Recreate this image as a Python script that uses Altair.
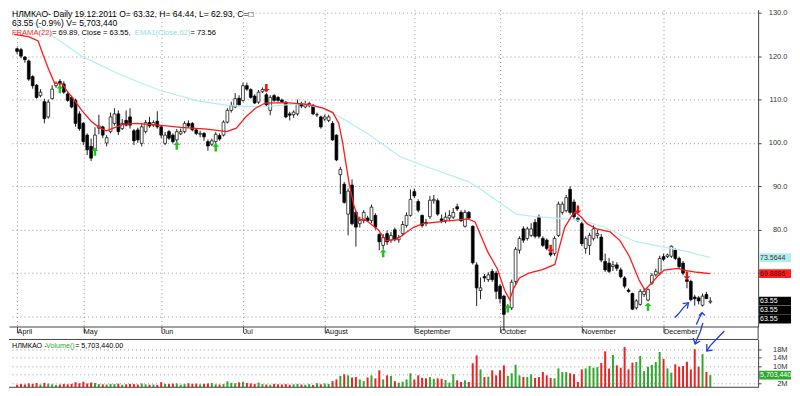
import altair as alt
import pandas as pd

# ---------------- data ----------------
opens = [121.7,121.5,119.8,118.9,115.3,113.3,110.9,109.5,106.0,110.2,113.2,114.2,113.6,111.3,110.5,109.8,106.7,
         104.5,101.8,99.2,98.4,103.4,103.7,100.0,102.6,104.5,106.7,103.3,105.2,106.0,102.8,103.0,99.9,102.6,104.7,104.1,105.0,
         103.7,99.9,102.6,101.8,100.7,102.1,102.6,104.5,104.5,103.0,102.0,102.2,100.3,99.7,100.3,101.7,101.8,104.8,107.5,108.3,110.3,
         109.8,113.2,112.3,110.8,109.4,111.8,111.1,107.5,110.9,110.5,109.9,109.4,106.7,106.5,106.7,109.0,108.3,108.6,108.6,106.5,106.0,
         105.5,105.2,104.5,101.8,92.7,90.5,83.6,90.3,84.0,81.4,82.1,82.7,82.1,83.3,78.9,76.4,79.1,77.6,80.0,77.7,79.1,81.0,83.3,
         88.8,86.5,83.3,81.7,83.0,86.7,86.7,82.5,82.1,82.7,82.9,85.3,84.0,80.8,84.0,80.8,71.9,66.0,69.2,68.5,70.4,70.0,
         67.0,64.7,62.0,62.0,68.1,75.3,80.2,78.0,78.7,81.7,82.9,78.0,77.6,74.7,74.5,78.7,84.0,84.4,89.3,86.4,82.6,
         81.4,75.7,76.4,77.95,78.7,78.3,72.7,72.3,71.5,71.9,70.75,68.9,66.1,65.3,62.0,62.8,65.1,63.8,67.7,69.6,70.0,
         73.8,73.8,73.9,75.3,73.4,72.3,68.5,68.1,64.5,64.3,62.6,65.1,63.32]
highs = [122.0,121.9,120.0,119.2,115.6,113.6,112.4,110.2,110.0,113.3,114.2,114.7,114.2,111.7,110.9,110.2,107.3,
         104.8,102.2,101.0,103.6,106.5,104.0,101.8,107.0,108.0,107.5,105.5,107.5,108.0,103.2,103.5,104.5,105.3,106.0,105.2,107.3,
         104.0,102.5,103.0,102.2,103.2,103.3,105.0,105.2,104.8,103.3,102.8,102.5,100.8,101.0,102.5,102.2,105.2,108.0,109.5,111.5,111.0,
         113.9,113.9,112.6,111.2,112.2,112.8,111.5,111.0,111.3,110.8,110.2,109.7,107.2,107.5,110.0,109.5,109.7,109.5,109.0,107.0,106.3,
         106.5,106.5,105.0,102.0,94.5,91.0,89.5,91.6,84.5,83.0,84.5,83.2,85.8,83.8,79.2,79.0,79.8,79.5,80.5,78.8,82.0,84.0,89.3,
         89.5,87.0,83.5,82.5,87.8,88.0,87.2,83.5,84.0,84.5,85.0,86.0,84.5,84.6,84.3,81.0,72.5,69.0,69.8,70.2,71.0,70.5,
         67.5,65.0,62.8,68.5,76.0,78.5,80.8,80.7,81.5,82.5,83.5,78.5,78.0,75.0,78.5,86.5,86.5,88.0,90.0,87.0,83.0,
         81.8,78.5,79.3,81.0,80.0,79.0,74.5,73.5,72.8,72.5,71.3,69.3,66.5,65.5,64.0,66.3,66.5,66.5,70.0,71.0,74.0,
         74.5,74.5,76.4,75.7,73.8,72.8,69.0,68.5,65.0,64.7,65.3,65.7,64.44]
lows = [120.5,119.5,118.5,114.3,112.5,110.2,110.5,104.5,105.6,110.0,112.7,113.0,111.3,109.5,108.0,103.7,102.8,
        99.5,97.2,95.8,98.0,102.0,101.1,99.2,102.2,104.0,101.8,103.0,103.8,103.3,99.5,100.0,99.2,102.2,103.5,103.7,103.3,
        101.1,99.5,100.7,99.9,100.2,101.8,102.2,103.5,102.7,101.8,101.3,100.5,98.2,99.3,99.8,100.5,101.5,104.5,107.0,108.0,108.5,
        109.5,112.0,110.2,109.0,109.0,111.5,108.3,106.4,109.5,109.5,109.3,105.7,105.2,105.8,106.3,108.0,108.0,108.2,106.4,106.0,103.3,
        105.0,104.8,100.5,95.8,88.2,86.0,78.7,81.0,76.1,80.5,81.5,81.8,81.5,80.0,75.3,75.5,76.5,77.0,77.3,77.0,78.5,80.5,83.0,
        87.3,84.0,80.5,80.8,82.5,86.0,83.2,81.5,81.5,82.0,82.5,84.3,81.8,80.5,82.3,72.0,62.4,64.0,68.0,68.0,68.0,64.0,
        63.0,56.7,61.0,61.5,67.5,74.5,77.0,77.5,78.3,78.0,78.0,76.0,75.3,73.8,74.0,78.3,83.5,84.0,83.5,82.5,81.8,
        76.3,74.5,74.2,77.5,78.0,72.5,70.3,70.0,70.5,70.5,68.8,66.5,65.5,61.5,61.6,62.5,64.5,63.5,67.3,69.2,69.5,
        72.8,73.5,73.5,73.0,71.0,69.5,66.5,63.5,62.5,62.8,62.3,64.0,62.93]
closes = [121.1,120.0,119.2,114.7,113.2,110.5,111.7,105.6,109.4,112.4,113.7,113.6,111.7,109.8,108.3,104.5,103.3,
          100.3,98.4,96.5,101.8,103.9,101.8,101.2,106.0,106.7,102.6,104.5,104.1,104.1,100.5,100.7,103.7,104.7,103.9,104.7,103.7,
          101.8,101.8,101.1,100.3,102.6,102.6,104.5,103.9,103.0,102.2,102.2,101.4,99.3,100.5,102.0,100.9,104.8,107.5,108.6,110.2,108.8,
          113.2,112.4,110.5,109.2,111.7,112.3,108.8,110.5,109.8,109.8,109.5,106.0,106.4,107.1,109.0,108.5,108.8,109.1,106.7,106.5,103.7,
          106.0,106.0,100.7,96.1,93.9,86.3,88.9,81.4,80.6,82.1,84.0,82.1,85.2,80.6,77.2,78.2,77.2,78.7,77.7,78.2,81.2,83.3,87.0,
          87.8,84.5,81.0,81.4,86.8,87.0,83.6,82.1,82.9,83.3,84.0,84.8,82.1,84.0,82.7,72.4,66.6,66.6,68.9,69.6,68.5,65.8,
          64.1,60.5,62.3,67.9,75.5,78.0,77.6,80.2,80.2,78.5,78.5,76.4,75.7,74.2,78.0,85.9,85.9,87.4,84.0,83.0,82.1,
          76.8,77.95,78.7,80.2,79.1,73.0,70.75,70.4,71.9,71.1,69.2,67.0,65.8,61.7,63.6,65.8,65.8,66.2,69.5,70.4,73.4,
          73.2,74.2,76.2,73.4,71.5,70.0,68.1,63.9,64.1,63.6,64.7,64.13,63.55]
vol_m = [1.2,1.5,1.3,1.8,1.6,2.0,1.3,2.1,1.7,1.4,1.1,1.3,1.5,1.4,1.6,2.4,1.9,
         2.6,1.8,2.2,2.0,1.5,1.4,1.3,1.6,1.5,1.7,1.2,1.4,1.6,1.5,1.3,1.8,1.4,1.2,1.3,1.1,
         2.4,1.6,1.5,1.7,1.8,1.2,1.5,1.9,1.6,1.7,1.4,1.6,1.8,2.0,1.4,1.3,1.5,2.8,2.1,1.9,2.3,
         2.6,2.0,1.8,1.6,2.2,1.5,1.3,1.2,1.6,1.4,1.3,1.5,1.2,1.4,1.6,1.3,1.2,1.5,1.1,1.9,1.4,
         1.8,1.6,2.9,3.7,5.3,6.1,5.6,4.6,4.8,3.7,2.9,4.6,5.6,4.2,8.0,3.7,5.6,5.3,2.9,2.2,
         2.6,3.7,6.6,3.7,5.6,4.4,4.2,4.8,4.0,4.2,4.0,3.4,2.2,6.1,3.3,2.5,3.3,2.5,11.3,15.0,
         8.4,4.8,5.0,8.0,5.6,8.0,10.3,5.3,6.6,10.6,5.6,4.8,4.8,6.1,4.4,4.8,7.2,5.6,4.4,4.2,
         8.9,7.2,7.2,6.6,6.1,2.5,8.4,8.9,10.0,9.2,9.5,11.4,16.9,8.8,15.2,10.3,9.2,18.9,8.4,11.6,
         11.9,14.7,7.6,9.7,10.5,11.9,16.6,13.4,8.9,6.9,10.8,9.7,10.0,12.0,8.4,17.9,9.7,15.6,7.2,5.70344]

frama_idx = [-0.8,2.9,5.4,6.6,8.1,9.6,11.6,12.8,14.6,16.6,19.0,21.0,23.0,24.7,27.2,30.7,36.4,42.1,48.8,53.8,56.3,
             58.7,61.2,63.7,68.7,73.6,76.1,78.6,81.1,82.6,83.6,84.3,85.3,86.5,87.8,89.0,90.2,92.7,94.7,97.2,98.4,
             101.7,104.2,110.1,115.8,117.6,120.8,123.3,125.2,126.5,127.5,129.0,131.4,134.9,138.1,139.4,140.6,142.4,
             143.3,144.8,146.3,148.8,152.3,154.8,157.2,159.7,161.2,162.9,164.7,166.2,169.7,171.1,174.6,178.0]
frama_val = [125.0,124.5,123.5,120.5,117.0,113.8,113.6,112.0,110.0,107.5,105.0,103.6,102.8,103.4,104.3,104.5,104.1,
             103.6,103.2,102.6,103.4,106.0,108.0,109.2,109.3,109.0,108.6,108.0,107.0,104.5,100.0,96.0,90.5,85.5,82.2,
             82.5,81.8,80.0,77.5,77.8,78.4,80.5,81.4,82.0,82.5,81.8,75.0,71.0,66.0,63.9,66.5,68.9,70.0,70.8,72.0,76.5,
             80.5,83.2,84.1,83.0,81.4,80.2,79.5,77.5,73.9,68.4,66.1,67.7,69.5,70.7,71.1,70.7,70.2,69.89]
ema_idx = [-0.8,5.4,16.6,26.5,36.4,46.3,54.5,63.0,73.6,79.3,83.5,90.2,98.4,103.4,115.8,118.3,123.3,128.2,133.2,
           140.6,145.1,150.5,158.7,165.4,171.1,178.0]
ema_val = [131.0,127.0,120.0,115.7,112.2,109.7,108.6,108.3,109.1,107.6,105.7,102.0,96.8,95.1,91.1,89.8,86.6,83.6,83.0,
           82.5,82.1,80.7,77.3,76.1,75.2,73.56]

green_sig_idx = [11, 20, 41, 51, 94, 126, 162]
green_sig_px = [112.4, 98.0, 99.4, 99.0, 74.6, 61.9, 62.3]
red_sig_idx = [64, 137, 144, 172]
red_sig_px = [112.6, 75.6, 84.6, 69.4]

month_labels = ["April", "May", "Jun", "Jul", "August", "September", "October", "November", "December"]
holidays = ["2011-05-02", "2011-05-09", "2011-06-13", "2011-11-04"]

# hand-drawn blue marks (index, value)
blueA_i = [168.9, 169.9, 171.1, 172.4]; blueA_v = [59.77, 60.68, 62.05, 63.19]
blueAh_i = [170.9, 172.4, 172.1]; blueAh_v = [62.96, 63.19, 61.82]
blueB_i = [174.4, 175.1, 175.9]; blueB_v = [58.18, 59.54, 60.91]
blueBh_i = [175.1, 175.9, 176.6]; blueBh_v = [60.23, 60.91, 60.23]
vblueC_i = [176.1, 175.4, 174.6, 174.1]; vblueC_v = [30.3, 26.0, 22.7, 20.4]
vblueCh_i = [173.6, 174.1, 175.4]; vblueCh_v = [23.2, 20.4, 21.8]
vblueD_i = [181.6, 179.6, 177.9, 177.1]; vblueD_v = [26.5, 22.7, 19.4, 17.1]
vblueDh_i = [177.1, 177.1, 178.6]; vblueDh_v = [20.4, 17.1, 17.5]

# ---------------- tables ----------------
dates = [d for d in pd.bdate_range("2011-04-07", "2011-12-19") if d.strftime("%Y-%m-%d") not in holidays]
n = len(closes)
df = pd.DataFrame({"i": list(range(n)), "open": opens, "high": highs, "low": lows, "close": closes,
                   "vol": vol_m, "date": dates[:n]})
df["up"] = df["close"] >= df["open"]
month_start = [int(v) for v in df.groupby(df["date"].dt.month)["i"].min().tolist()]

FONT = "Liberation Sans"
W, H1, H2, GAP = 752, 318, 48, 13
xs = alt.Scale(domain=[-0.8, 189], nice=False, zero=False)
ys = alt.Scale(domain=[57.7, 130.7], nice=False, zero=False)
vs = alt.Scale(domain=[0, 22.5], nice=False)

lab_expr = "".join(f"datum.value=={v}?' {m}':" for v, m in zip(month_start, month_labels)) + "''"

GRID = "#9a9a9a"
xaxis = alt.Axis(values=month_start, labelExpr=lab_expr, grid=True, gridDash=[1, 3], gridColor=GRID,
                 tickSize=6, tickColor="#444", domainColor="#444", labelAlign="left", labelBaseline="top",
                 labelPadding=-5, labelFontSize=7.3, labelFont=FONT, labelColor="#111",
                 labelOverlap=False, labelFlush=False, labelBound=False, title=None,
                 minExtent=13, maxExtent=13)
# 70.0 and 60.0 are hidden under the value boxes in the reference
yaxis = alt.Axis(orient="right", values=list(range(60, 131, 10)),
                 labelExpr="(datum.value == 70 || datum.value == 60) ? '' : format(datum.value, '.1f')",
                 grid=True, gridDash=[1, 3],
                 gridColor=GRID, tickSize=3, tickColor="#444", domainColor="#444", labelAlign="right",
                 labelPadding=26, labelFontSize=7.5, labelFont=FONT, labelColor="#333", title=None,
                 minExtent=32, maxExtent=32)
vaxis = alt.Axis(orient="right", values=[2, 6, 10, 14, 18],
                 labelExpr="datum.value == 6 ? '' : datum.value + 'M'", grid=True,
                 gridDash=[1, 3], gridColor=GRID, tickSize=3, tickColor="#444", domainColor="#444",
                 labelAlign="right", labelPadding=26, labelFontSize=7.5, labelFont=FONT, labelColor="#333",
                 title=None, minExtent=32, maxExtent=32)
vxaxis = alt.Axis(labels=False, ticks=False, grid=False, domain=False, title=None, minExtent=0, maxExtent=0)

PX = alt.X("i:Q", scale=xs, axis=xaxis)

base = alt.Chart(df)
wick = base.mark_rule(color="#222", strokeWidth=1).encode(
    x=PX, y=alt.Y("low:Q", scale=ys, axis=yaxis), y2="high:Q")
body = base.mark_bar(size=2.8, stroke="#000", strokeWidth=0.7).encode(
    x=PX, y=alt.Y("open:Q", scale=ys, axis=yaxis), y2="close:Q",
    fill=alt.condition("datum.up", alt.value("#ffffff"), alt.value("#000000")))

def line_layer(ix, vals, color, width, scale, xax, yax, clip=False):
    d = pd.DataFrame({"i": ix, "v": vals, "o": list(range(len(ix)))})
    return alt.Chart(d).mark_line(color=color, strokeWidth=width, clip=clip).encode(
        x=alt.X("i:Q", scale=xs, axis=xax), y=alt.Y("v:Q", scale=scale, axis=yax), order="o:Q")

ema_l = line_layer(ema_idx, ema_val, "#b5eeee", 1.2, ys, xaxis, yaxis, clip=True)
frama_l = line_layer(frama_idx, frama_val, "#ff1a1a", 1.3, ys, xaxis, yaxis)

UP = "M0,-1L0.8,-0.15L0.3,-0.15L0.3,1L-0.3,1L-0.3,-0.15L-0.8,-0.15Z"
DN = "M0,1L0.8,0.15L0.3,0.15L0.3,-1L-0.3,-1L-0.3,0.15L-0.8,0.15Z"
gsig = alt.Chart(pd.DataFrame({"i": green_sig_idx, "p": green_sig_px})).mark_point(
    shape=UP, filled=True, color="#22c322", size=70, opacity=1).encode(
    x=PX, y=alt.Y("p:Q", scale=ys, axis=yaxis))
rsig = alt.Chart(pd.DataFrame({"i": red_sig_idx, "p": red_sig_px})).mark_point(
    shape=DN, filled=True, color="#ee1111", size=70, opacity=1).encode(
    x=PX, y=alt.Y("p:Q", scale=ys, axis=yaxis))

blue_layers = [line_layer(a, b, "#1f3fd8", 1.3, ys, xaxis, yaxis) for a, b in
               [(blueA_i, blueA_v), (blueAh_i, blueAh_v), (blueB_i, blueB_v), (blueBh_i, blueBh_v)]]

# text helpers
CW = {' ': 278, '=': 584, '(': 333, ')': 333, ',': 278, '.': 278, '-': 333, '%': 889, 'F': 611, 'R': 722,
      'A': 667, 'M': 833, 'C': 722, 'E': 667, 'V': 667, 'l': 222, 'o': 556, 's': 500, 'e': 556, 'u': 556,
      'm': 833, 'Н': 722, 'Л': 650, 'К': 600, 'О': 778, 'D': 722, 'a': 556, 'i': 222, 'y': 500, 'O': 778,
      'H': 722, 'L': 556, '□': 600}
def tw(s, fs):
    return sum(CW.get(c, 556) for c in s) * fs / 1000.0

def text_at(s, x, y, color="#000", fs=7, align="left"):
    return alt.Chart(pd.DataFrame({"t": [s]})).mark_text(
        align=align, baseline="middle", font=FONT, fontSize=fs, color=color).encode(
        x=alt.value(x), y=alt.value(y), text="t:N")

def segs(parts, x0, y, fs=7):
    out, x = [], x0
    for s, c in parts:
        out.append(text_at(s, x, y, c, fs))
        x += tw(s, fs)
    return out

title_layers = []
title_layers.append(text_at("НЛМКАО- Daily 19.12.2011 O= 63.32, H= 64.44, L= 62.93, C=□", 3, 4, fs=8.6))
title_layers.append(text_at("63.55 (-0.9%) V= 5,703,440", 3, 13.5, fs=8.6))
title_layers += segs([("FRAMA(22)", "#ff1a1a"), (" = 69.89, Close = 63.55, ", "#000"),
                      ("EMA1(Close,62)", "#8fe0e0"), (" = 73.56", "#000")], 3, 23, fs=7.6)

BOX = "M-1,-0.28L1,-0.28L1,0.28L-1,0.28Z"
def badge(val, label, bg, fg, scale, yax):
    d = pd.DataFrame({"v": [val], "t": [label]})
    box = alt.Chart(d).mark_point(shape=BOX, filled=True, color=bg, size=32 * 32, opacity=1, clip=False).encode(
        x=alt.value(W + 17), y=alt.Y("v:Q", scale=scale, axis=yax))
    txt = alt.Chart(d).mark_text(align="left", baseline="middle", font=FONT, fontSize=7, color=fg, clip=False).encode(
        x=alt.value(W + 2), y=alt.Y("v:Q", scale=scale, axis=yax), text="t:N")
    return [box, txt]

badges = []
badges += badge(73.5644, "73.5644", "#b3eeee", "#333", ys, yaxis)
badges += badge(69.8886, "69.8886", "#ff2020", "#5a0000", ys, yaxis)
for v in [63.55, 61.48, 59.42]:
    badges += badge(v, "63.55", "#000", "#fff", ys, yaxis)

# right frame line continuing through the month band
connector = alt.Chart(pd.DataFrame({"a": [0]})).mark_rule(color="#444", strokeWidth=1, clip=False).encode(
    x=alt.value(W), y=alt.value(H1), y2=alt.value(H1 + GAP))

price = alt.layer(wick, body, ema_l, frama_l, gsig, rsig, *blue_layers, *title_layers, *badges,
                  connector).properties(width=W, height=H1)

# ---------------- volume panel ----------------
VX = alt.X("i:Q", scale=xs, axis=vxaxis)
vbars = alt.Chart(df).mark_bar(size=2).encode(
    x=VX, y=alt.Y("vol:Q", scale=vs, axis=vaxis),
    color=alt.condition("datum.up", alt.value("#2ea82e"), alt.value("#ee2222")))
edge_top = alt.Chart(pd.DataFrame({"a": [0]})).mark_rule(color="#444", strokeWidth=1).encode(
    x=alt.value(0), x2=alt.value(W), y=alt.value(0))
edge_bot = alt.Chart(pd.DataFrame({"a": [0]})).mark_rule(color="#444", strokeWidth=1).encode(
    x=alt.value(0), x2=alt.value(W), y=alt.value(H2))
vtitle = segs([("НЛМКАО - ", "#000"), ("Volume()", "#2ea82e"), (" = 5,703,440.00", "#000")], 3, 7, fs=7.2)
vblue = [line_layer(a, b, "#1f3fd8", 1.3, vs, vxaxis, vaxis) for a, b in
         [(vblueC_i, vblueC_v), (vblueCh_i, vblueCh_v), (vblueD_i, vblueD_v), (vblueDh_i, vblueDh_v)]]
vbadge = badge(5.70344, "5,703,440", "#2ea82e", "#fff", vs, vaxis)

volume = alt.layer(vbars, edge_top, edge_bot, *vtitle, *vblue, *vbadge).properties(width=W, height=H2)

chart = alt.vconcat(price, volume, spacing=GAP, bounds="flush").properties(
    padding=0, background="#ffffff").configure_view(stroke=None)

chart.save("out.html", embed_options={"renderer": "svg", "actions": False})
